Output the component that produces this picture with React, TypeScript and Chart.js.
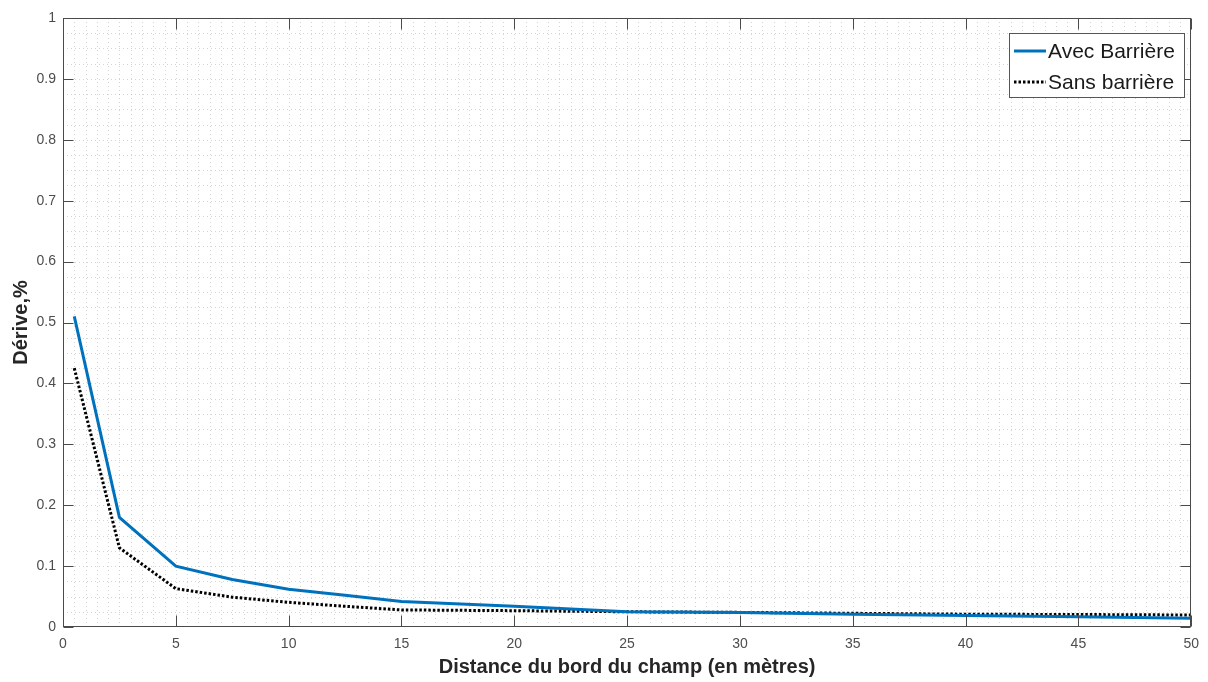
import { useEffect, useRef } from "react";
import { Chart, registerables } from "chart.js";

Chart.register(...registerables);

// Distance from the field edge (m) and drift (%) for each configuration
const distances = [0.5, 2.5, 5, 7.5, 10, 12.5, 15, 20, 25, 30, 35, 40, 45, 50];
const avecBarriere = [0.51, 0.18, 0.1, 0.078, 0.062, 0.052, 0.042, 0.034, 0.025, 0.024, 0.021, 0.019, 0.017, 0.0145];
const sansBarriere = [0.425, 0.13, 0.063, 0.049, 0.0405, 0.034, 0.028, 0.0268, 0.025, 0.024, 0.0225, 0.021, 0.0205, 0.0197];

const seriesLabels = ["Avec Barrière", "Sans barrière"];
const xTicks = [0, 5, 10, 15, 20, 25, 30, 35, 40, 45, 50];
const yTicks = [0, 0.1, 0.2, 0.3, 0.4, 0.5, 0.6, 0.7, 0.8, 0.9, 1];
const xTickLabels = ["0", "5", "10", "15", "20", "25", "30", "35", "40", "45", "50"];
const yTickLabels = ["0", "0.1", "0.2", "0.3", "0.4", "0.5", "0.6", "0.7", "0.8", "0.9", "1"];
const xMinorStep = 0.5;
const yMinorStep = 0.025;

const FONT = "'Liberation Sans', Arial, Helvetica, sans-serif";
const AXIS_COLOR = "#4a4a4a";

// Dotted grid underneath the curves, boxed axes with inward ticks on top
const framePlugin = {
  id: "matlabFrame",
  beforeDatasetsDraw(chart: any) {
    const { ctx, chartArea: a, scales } = chart;
    const xs = scales.x;
    const ys = scales.y;
    ctx.save();
    ctx.strokeStyle = "rgba(150,150,150,0.4)";
    ctx.lineWidth = 1;
    ctx.setLineDash([1, 3]);
    const nx = Math.round((xs.max - xs.min) / xMinorStep);
    for (let i = 1; i < nx; i++) {
      const px = Math.round(xs.getPixelForValue(xs.min + i * xMinorStep)) + 0.5;
      ctx.beginPath();
      ctx.moveTo(px, a.top);
      ctx.lineTo(px, a.bottom);
      ctx.stroke();
    }
    const ny = Math.round((ys.max - ys.min) / yMinorStep);
    for (let i = 1; i < ny; i++) {
      const py = Math.round(ys.getPixelForValue(ys.min + i * yMinorStep)) + 0.5;
      ctx.beginPath();
      ctx.moveTo(a.left, py);
      ctx.lineTo(a.right, py);
      ctx.stroke();
    }
    ctx.restore();
  },
  afterDatasetsDraw(chart: any) {
    const { ctx, chartArea: a, scales } = chart;
    const xs = scales.x;
    const ys = scales.y;
    const L = Math.round(a.left) + 0.5;
    const R = Math.round(a.right) - 0.5;
    const T = Math.round(a.top) + 0.5;
    const B = Math.round(a.bottom) - 0.5;
    ctx.save();
    ctx.strokeStyle = AXIS_COLOR;
    ctx.lineWidth = 1;
    ctx.setLineDash([]);
    ctx.strokeRect(L, T, R - L, B - T);
    const tick = 10;
    ctx.beginPath();
    xTicks.forEach((v) => {
      const px = Math.round(xs.getPixelForValue(v)) + 0.5;
      ctx.moveTo(px, B);
      ctx.lineTo(px, B - tick - 1);
      ctx.moveTo(px, T);
      ctx.lineTo(px, T + tick + 1);
    });
    yTicks.forEach((v) => {
      const py = Math.round(ys.getPixelForValue(v)) + 0.5;
      ctx.moveTo(L, py);
      ctx.lineTo(L + tick, py);
      ctx.moveTo(R, py);
      ctx.lineTo(R - tick, py);
    });
    ctx.stroke();
    ctx.restore();
  },
  afterDraw(chart: any) {
    const { ctx } = chart;
    const datasets = chart.data.datasets;
    const left = 1009.5;
    const top = 33.5;
    const w = 175;
    const h = 64;
    ctx.save();
    ctx.fillStyle = "#ffffff";
    ctx.fillRect(left, top, w, h);
    ctx.strokeStyle = "#555555";
    ctx.lineWidth = 1;
    ctx.strokeRect(left, top, w, h);
    ctx.font = `21px ${FONT}`;
    ctx.textBaseline = "middle";
    ctx.textAlign = "left";
    datasets.forEach((ds: any, i: number) => {
      const cy = 51 + i * 31;
      ctx.strokeStyle = ds.borderColor;
      ctx.lineWidth = ds.borderWidth;
      ctx.setLineDash(ds.borderDash || []);
      ctx.beginPath();
      ctx.moveTo(1014, cy);
      ctx.lineTo(1046, cy);
      ctx.stroke();
      ctx.setLineDash([]);
      ctx.fillStyle = "#1a1a1a";
      ctx.fillText(ds.label, 1048, cy + 1);
    });
    ctx.restore();
  },
};

export default function App() {
  const canvasRef = useRef<HTMLCanvasElement | null>(null);

  useEffect(() => {
    document.body.style.margin = "0";
    const canvas = canvasRef.current;
    if (!canvas) return;

    const chart = new Chart(canvas, {
      type: "line",
      data: {
        datasets: [
          {
            label: seriesLabels[0],
            data: distances.map((d, i) => ({ x: d, y: avecBarriere[i] })),
            borderColor: "#0072BD",
            borderWidth: 3,
            pointRadius: 0,
            tension: 0,
            fill: false,
          },
          {
            label: seriesLabels[1],
            data: distances.map((d, i) => ({ x: d, y: sansBarriere[i] })),
            borderColor: "#000000",
            borderWidth: 3,
            borderDash: [2.5, 2],
            pointRadius: 0,
            tension: 0,
            fill: false,
          },
        ],
      },
      options: {
        animation: false,
        responsive: false,
        maintainAspectRatio: false,
        layout: { padding: { left: 0, top: 18, right: 8, bottom: 0 } },
        plugins: {
          legend: { display: false },
          tooltip: { enabled: false },
          title: { display: false },
        },
        scales: {
          x: {
            type: "linear",
            min: 0,
            max: 50,
            afterBuildTicks: (scale: any) => {
              scale.ticks = xTicks.map((v) => ({ value: v }));
            },
            afterFit: (scale: any) => {
              scale.height = 55;
            },
            ticks: {
              autoSkip: false,
              maxRotation: 0,
              padding: 9,
              color: "#4d4d4d",
              font: { family: FONT, size: 14 },
              callback: (v: any) => xTickLabels[xTicks.indexOf(Number(v))] ?? "",
            },
            grid: { display: false, drawTicks: false },
            border: { display: false },
            title: {
              display: true,
              text: "Distance du bord du champ (en mètres)",
              color: "#262626",
              font: { family: FONT, size: 20, weight: "bold" },
              padding: { top: 0, bottom: 3 },
            },
          },
          y: {
            type: "linear",
            min: 0,
            max: 1,
            afterBuildTicks: (scale: any) => {
              scale.ticks = yTicks.map((v) => ({ value: v }));
            },
            afterFit: (scale: any) => {
              scale.width = 63;
            },
            ticks: {
              autoSkip: false,
              padding: 7,
              color: "#4d4d4d",
              font: { family: FONT, size: 14 },
              callback: (v: any) => {
                const idx = yTicks.findIndex((t) => Math.abs(t - Number(v)) < 1e-9);
                return idx >= 0 ? yTickLabels[idx] : "";
              },
            },
            grid: { display: false, drawTicks: false },
            border: { display: false },
            title: {
              display: true,
              text: "Dérive,%",
              color: "#262626",
              font: { family: FONT, size: 20, weight: "bold" },
              padding: { top: 9, bottom: 0 },
            },
          },
        },
      },
      plugins: [framePlugin],
    } as any);

    return () => chart.destroy();
  }, []);

  return (
    <div style={{ width: 1208, height: 682, background: "#ffffff" }}>
      <canvas ref={canvasRef} width={1208} height={682} />
    </div>
  );
}
